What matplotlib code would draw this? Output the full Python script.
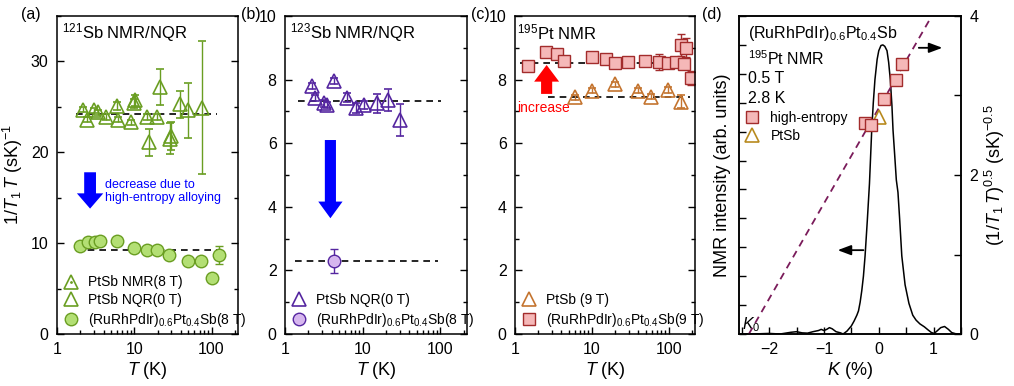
import numpy as np
import matplotlib
matplotlib.use("Agg")
import matplotlib.pyplot as plt
from matplotlib.lines import Line2D
from matplotlib.ticker import LogLocator, NullFormatter, MultipleLocator, NullLocator

plt.rcParams['font.family'] = ['Liberation Sans', 'DejaVu Sans']
plt.rcParams['mathtext.fontset'] = 'custom'
plt.rcParams['mathtext.rm'] = 'Liberation Sans'
plt.rcParams['mathtext.it'] = 'Liberation Sans:italic'
plt.rcParams['mathtext.bf'] = 'Liberation Sans:bold'

# ---------------- data ----------------
# (a) 121Sb
a_nmr_T = [5.96, 10.0, 10.1, 15.3, 21.3, 28.7, 29.9, 39.6, 49.5, 75.6]
a_nmr_v = [25.1, 25.4, 25.7, 21.1, 27.2, 21.5, 21.8, 25.3, 24.6, 24.9]
a_nmr_e = [0.4, 0.5, 0.6, 1.5, 2.0, 1.7, 1.5, 1.5, 3.0, 7.3]
a_nqr_T = [2.2, 2.48, 3.0, 3.4, 4.3, 6.1, 9.06, 14.6, 19.7]
a_nqr_v = [24.7, 23.6, 24.6, 24.4, 23.9, 23.6, 23.3, 23.9, 23.9]
a_nqr_e = [0.3, 0.3, 0.3, 0.3, 0.3, 0.3, 0.3, 0.3, 0.3]
a_he_T = [1.99, 2.55, 3.11, 3.62, 5.96, 10.0, 14.6, 19.7, 27.9, 49.0, 72.0, 100.0, 124.0]
a_he_v = [9.67, 10.1, 10.1, 10.2, 10.2, 9.5, 9.3, 9.3, 8.7, 8.06, 8.06, 6.2, 8.7]
a_he_e = [0.3, 0.3, 0.3, 0.3, 0.3, 0.3, 0.3, 0.3, 0.3, 0.3, 0.3, 0.2, 1.0]
a_level_pt = (24.25, 1.77, 118)
a_level_he = (9.3, 1.77, 118)
a_arrow = (2.68, 17.8, 13.8)

# (b) 123Sb
b_nqr_T = [2.22, 2.4, 3.2, 3.47, 4.33, 6.2, 8.1, 10.4, 15.2, 20.9, 30.5]
b_nqr_v = [7.8, 7.43, 7.25, 7.2, 7.96, 7.43, 7.1, 7.2, 7.25, 7.36, 6.73]
b_nqr_e = [0.1, 0.1, 0.1, 0.1, 0.1, 0.15, 0.15, 0.12, 0.3, 0.35, 0.5]
b_he_T = [4.24]
b_he_v = [2.3]
b_he_e = [0.38]
b_level_pt = (7.33, 1.46, 103)
b_level_he = (2.3, 1.35, 93)
b_arrow = (3.84, 6.1, 3.64)

# (c) 195Pt
c_pt_T = [6.0, 9.9, 19.9, 40.0, 59.5, 98.0, 146.0]
c_pt_v = [7.44, 7.65, 7.86, 7.65, 7.46, 7.67, 7.3]
c_pt_e = [0.08, 0.08, 0.08, 0.08, 0.08, 0.1, 0.2]
c_he_T = [1.49, 2.5, 3.47, 4.33, 9.9, 15.1, 19.9, 29.6, 48.8, 74.0, 98.0, 123.0, 146.0, 157.0, 170.0, 197.0]
c_he_v = [8.44, 8.86, 8.8, 8.58, 8.7, 8.65, 8.51, 8.54, 8.58, 8.56, 8.53, 8.56, 9.09, 8.48, 9.0, 8.04]
c_he_e = [0.12, 0.12, 0.12, 0.12, 0.15, 0.12, 0.12, 0.1, 0.1, 0.25, 0.15, 0.12, 0.35, 0.15, 0.3, 0.22]
c_level_pt = (7.46, 2.7, 187)
c_level_he = (8.51, 1.16, 187)
c_arrow = (2.58, 7.55, 8.46)

# (d) spectrum and Korringa plot
d_K = [-2.55, -2.3, -2.0, -1.8, -1.6, -1.5, -1.4, -1.3, -1.2, -1.1, -1.05, -1.0, -0.95, -0.9,
       -0.85, -0.78, -0.7, -0.65, -0.58, -0.5, -0.45, -0.4, -0.37, -0.34, -0.31, -0.28, -0.25,
       -0.21, -0.17, -0.13, -0.1, -0.07, -0.03, 0.0, 0.04, 0.075, 0.11, 0.15, 0.18, 0.21, 0.24,
       0.26, 0.29, 0.32, 0.35, 0.38, 0.42, 0.48, 0.55, 0.62, 0.68, 0.75, 0.83, 0.9, 0.96, 1.01,
       1.06, 1.13, 1.2, 1.27, 1.33, 1.4, 1.5]
d_I = [0.0, 0.0, 0.002, 0.0, 0.006, 0.008, 0.004, 0.003, 0.008, 0.012, 0.016, 0.012, 0.016, 0.022,
       0.018, 0.008, 0.004, 0.0, 0.01, 0.028, 0.045, 0.065, 0.08, 0.11, 0.15, 0.2, 0.27,
       0.39, 0.52, 0.70, 0.80, 0.88, 0.95, 0.98, 0.998, 1.0, 0.995, 0.98, 0.94, 0.88, 0.79,
       0.705, 0.62, 0.533, 0.49, 0.40, 0.27, 0.17, 0.106, 0.065, 0.048, 0.035, 0.025, 0.014, 0.005, 0.002,
       0.01, 0.022, 0.026, 0.016, 0.005, 0.001, 0.0]
d_he_K = [0.42, 0.31, 0.087, -0.25, -0.14]
d_he_r = [3.40, 3.19, 2.95, 2.66, 2.63]
d_he_e = [0.06, 0.06, 0.05, 0.06, 0.05]
d_pt_K = [0.0]
d_pt_r = [2.73]
d_fit_K = [-2.37, 1.0]
d_fit_r = [0.0, 4.04]

# colors
green = '#6a9e22'
green_f = '#b3df74'
purple = '#5526a0'
purple_f = '#d6b6ee'
orange = '#c4742f'
red_e = '#a32c2c'
red_f = '#f5b8b8'
gold = '#b88a1e'
fitc = '#7a1b5a'

W, H = 1014, 386
fig = plt.figure(figsize=(W / 100, H / 100), dpi=100)

def fx(px):
    return px / W

def fy(py):
    return 1 - py / H

bottom_px, top_px = 334, 16
panels_px = [(57, 238), (285, 467), (515, 695), (739, 961)]
axes = []
for l, r in panels_px:
    axes.append(fig.add_axes([fx(l), fy(bottom_px), (r - l) / W, (bottom_px - top_px) / H]))
ax_a, ax_b, ax_c, ax_d = axes

TL = 11.5
LBL = 13
LEG = 10
MS_T = 9.5
MS_O = 9
MS_S = 8

def style_log(ax):
    ax.set_xscale('log')
    ax.set_xlim(1, 220)
    ax.xaxis.set_minor_locator(LogLocator(base=10, subs=np.arange(2, 10), numticks=20))
    ax.xaxis.set_minor_formatter(NullFormatter())
    ax.set_xticks([1, 10, 100])
    ax.set_xticklabels(['1', '10', '100'])
    ax.tick_params(axis='both', which='both', direction='in', labelsize=TL, top=False, right=True)
    ax.tick_params(axis='both', which='major', length=5, width=1, pad=6)
    ax.tick_params(axis='both', which='minor', length=3, width=1)
    ax.set_xlabel(r'$T$ (K)', fontsize=LBL, labelpad=2)
    for s in ax.spines.values():
        s.set_linewidth(1.1)

def dashed(ax, lvl):
    y, x0, x1 = lvl
    ax.plot([x0, x1], [y, y], ls=(0, (4, 3)), color='k', lw=1.2, zorder=1)

def arrow(ax, spec, color, hl, hw, tw):
    x, y0, y1 = spec
    ax.annotate('', xy=(x, y1), xytext=(x, y0),
                arrowprops=dict(arrowstyle=f'simple,head_length={hl},head_width={hw},tail_width={tw}',
                                color=color, shrinkA=0, shrinkB=0, mutation_scale=10, lw=0))

# ---- (a)
style_log(ax_a)
ax_a.set_ylim(0, 35)
ax_a.yaxis.set_major_locator(MultipleLocator(10))
ax_a.yaxis.set_minor_locator(MultipleLocator(5))
dashed(ax_a, a_level_pt)
dashed(ax_a, a_level_he)
kw_tri = dict(fmt='^', ms=MS_T, mfc='none', capsize=3, elinewidth=1, mew=1.2, ls='none')
ax_a.errorbar(a_nqr_T, a_nqr_v, yerr=a_nqr_e, mec=green, ecolor=green, **kw_tri)
ax_a.errorbar(a_nmr_T, a_nmr_v, yerr=a_nmr_e, mec=green, ecolor=green, **kw_tri)
ax_a.errorbar(a_he_T, a_he_v, yerr=a_he_e, fmt='o', ms=MS_O, mfc=green_f, mec=green, ecolor=green,
              capsize=3, elinewidth=1, mew=1.0, ls='none')
ax_a.set_ylabel(r'$1/T_1\,T$ (sK)$^{-1}$', fontsize=LBL, labelpad=4)
ax_a.text(0.03, 0.947, r'$^{121}$Sb NMR/NQR', transform=ax_a.transAxes, fontsize=12, va='center')
arrow(ax_a, a_arrow, 'blue', 1.1, 1.9, 0.85)
ax_a.text(4.15, 17.1, 'decrease due to\nhigh-entropy alloying', color='blue', fontsize=9,
          va='top', ha='left', linespacing=1.15)
h1 = (Line2D([], [], marker='^', ms=MS_T, mfc='none', mec=green, mew=1.2, ls='none'),
      Line2D([], [], marker='.', ms=2, color=green, ls='none'))
h2 = Line2D([], [], marker='^', ms=MS_T, mfc='none', mec=green, mew=1.2, ls='none')
h3 = Line2D([], [], marker='o', ms=MS_O, mfc=green_f, mec=green, mew=1.0, ls='none')
ax_a.legend([h1, h2, h3], ['PtSb NMR(8 T)', 'PtSb NQR(0 T)', r'(RuRhPdIr)$_{0.6}$Pt$_{0.4}$Sb(8 T)'],
            loc='lower left', frameon=False, fontsize=LEG, handlelength=1.3, handletextpad=0.6,
            labelspacing=0.28, borderaxespad=0.15, borderpad=0.2)

# ---- (b)
style_log(ax_b)
ax_b.set_ylim(0, 10)
ax_b.yaxis.set_major_locator(MultipleLocator(2))
ax_b.yaxis.set_minor_locator(MultipleLocator(1))
dashed(ax_b, b_level_pt)
dashed(ax_b, b_level_he)
ax_b.errorbar(b_nqr_T, b_nqr_v, yerr=b_nqr_e, mec=purple, ecolor=purple, **kw_tri)
ax_b.errorbar(b_he_T, b_he_v, yerr=b_he_e, fmt='o', ms=MS_O, mfc=purple_f, mec=purple, ecolor=purple,
              capsize=3, elinewidth=1, mew=1.0, ls='none')
ax_b.text(0.03, 0.947, r'$^{123}$Sb NMR/NQR', transform=ax_b.transAxes, fontsize=12, va='center')
arrow(ax_b, b_arrow, 'blue', 1.2, 1.75, 0.8)
hb1 = Line2D([], [], marker='^', ms=MS_T, mfc='none', mec=purple, mew=1.2, ls='none')
hb2 = Line2D([], [], marker='o', ms=MS_O, mfc=purple_f, mec=purple, mew=1.0, ls='none')
ax_b.legend([hb1, hb2], ['PtSb NQR(0 T)', r'(RuRhPdIr)$_{0.6}$Pt$_{0.4}$Sb(8 T)'],
            loc='lower left', frameon=False, fontsize=LEG, handlelength=1.3, handletextpad=0.6,
            labelspacing=0.3, borderaxespad=0.15, borderpad=0.2)

# ---- (c)
style_log(ax_c)
ax_c.set_ylim(0, 10)
ax_c.yaxis.set_major_locator(MultipleLocator(2))
ax_c.yaxis.set_minor_locator(MultipleLocator(1))
dashed(ax_c, c_level_pt)
dashed(ax_c, c_level_he)
ax_c.errorbar(c_pt_T, c_pt_v, yerr=c_pt_e, mec=orange, ecolor=orange, **kw_tri)
ax_c.errorbar(c_he_T, c_he_v, yerr=c_he_e, fmt='s', ms=MS_S, mfc=red_f, mec=red_e, ecolor=red_e,
              capsize=3, elinewidth=1, mew=1.0, ls='none')
ax_c.text(0.01, 0.947, r'$^{195}$Pt NMR', transform=ax_c.transAxes, fontsize=12, va='center')
arrow(ax_c, c_arrow, 'red', 1.2, 1.8, 0.8)
ax_c.text(1.06, 7.1, 'increase', color='red', fontsize=10, va='center', ha='left')
hc1 = Line2D([], [], marker='^', ms=MS_T, mfc='none', mec=orange, mew=1.2, ls='none')
hc2 = Line2D([], [], marker='s', ms=MS_S, mfc=red_f, mec=red_e, mew=1.0, ls='none')
ax_c.legend([hc1, hc2], ['PtSb (9 T)', r'(RuRhPdIr)$_{0.6}$Pt$_{0.4}$Sb(9 T)'],
            loc='lower left', frameon=False, fontsize=LEG, handlelength=1.3, handletextpad=0.6,
            labelspacing=0.3, borderaxespad=0.15, borderpad=0.2)

# ---- (d)
ax_d.set_xlim(-2.55, 1.5)
ax_d.set_ylim(0, 1.1)
ax_d.plot(d_K, d_I, color='k', lw=1.1)
ax_d.xaxis.set_major_locator(MultipleLocator(1))
ax_d.xaxis.set_minor_locator(MultipleLocator(0.5))
ax_d.yaxis.set_major_locator(MultipleLocator(0.1))
ax_d.yaxis.set_minor_locator(NullLocator())
ax_d.tick_params(axis='both', which='both', direction='in', labelsize=TL, top=False, right=False,
                 length=5, width=1, pad=6)
ax_d.tick_params(axis='y', labelleft=False)
ax_d.set_xlabel(r'$K$ (%)', fontsize=LBL, labelpad=2)
ax_d.set_ylabel('NMR intensity (arb. units)', fontsize=LBL, labelpad=6)
for s in ax_d.spines.values():
    s.set_linewidth(1.1)
ax_d2 = ax_d.twinx()
ax_d2.set_ylim(0, 4)
ax_d2.yaxis.set_major_locator(MultipleLocator(2))
ax_d2.yaxis.set_minor_locator(MultipleLocator(1))
ax_d2.tick_params(axis='y', which='both', direction='in', labelsize=TL, pad=6, length=5, width=1)
ax_d2.plot(d_fit_K, d_fit_r, ls=(0, (4, 3)), color=fitc, lw=1.3)
ax_d2.errorbar(d_he_K, d_he_r, yerr=d_he_e, fmt='s', ms=MS_S, mfc=red_f, mec=red_e, ecolor=red_e,
               capsize=3, elinewidth=1, mew=1.0, ls='none')
ax_d2.plot(d_pt_K, d_pt_r, marker='^', ms=MS_T, mfc='none', mec=gold, mew=1.2, ls='none')
ax_d2.set_ylabel(r'$(1/T_1\,T)^{0.5}$ (sK)$^{-0.5}$', fontsize=LBL, labelpad=3)
for s in ax_d2.spines.values():
    s.set_linewidth(1.1)
ax_d2.set_xlim(-2.55, 1.5)

ax_d.text(0.04, 0.945, r'(RuRhPdIr)$_{0.6}$Pt$_{0.4}$Sb', transform=ax_d.transAxes, fontsize=11.5, va='center')
ax_d.text(0.04, 0.866, r'$^{195}$Pt NMR', transform=ax_d.transAxes, fontsize=11.5, va='center')
ax_d.text(0.04, 0.805, '0.5 T', transform=ax_d.transAxes, fontsize=11.5, va='center')
ax_d.text(0.04, 0.742, '2.8 K', transform=ax_d.transAxes, fontsize=11.5, va='center')
ax_d.text(0.015, 0.03, r'$K_0$', transform=ax_d.transAxes, fontsize=11.5, va='center')
hd1 = Line2D([], [], marker='s', ms=MS_S, mfc=red_f, mec=red_e, mew=1.0, ls='none')
hd2 = Line2D([], [], marker='^', ms=MS_T, mfc='none', mec=gold, mew=1.2, ls='none')
ax_d2.legend([hd1, hd2], ['high-entropy', 'PtSb'], loc='upper left', bbox_to_anchor=(0.01, 0.71),
             frameon=False, fontsize=LEG, handlelength=1.2, handletextpad=0.7, labelspacing=0.3,
             borderaxespad=0.0, borderpad=0.2)
# direction arrows
ax_d.annotate('', xy=(1.16, 0.99), xytext=(0.73, 0.99),
              arrowprops=dict(arrowstyle='-|>,head_length=0.8,head_width=0.3', color='k', lw=1.3,
                              shrinkA=0, shrinkB=0))
ax_d.annotate('', xy=(-0.75, 0.29), xytext=(-0.28, 0.29),
              arrowprops=dict(arrowstyle='-|>,head_length=0.8,head_width=0.3', color='k', lw=1.3,
                              shrinkA=0, shrinkB=0))

# panel labels
for lab, px in [('(a)', 21), ('(b)', 241), ('(c)', 471), ('(d)', 702)]:
    fig.text(fx(px), fy(14), lab, fontsize=11.5, va='center', ha='left')

fig.savefig('out.png', dpi=100)
